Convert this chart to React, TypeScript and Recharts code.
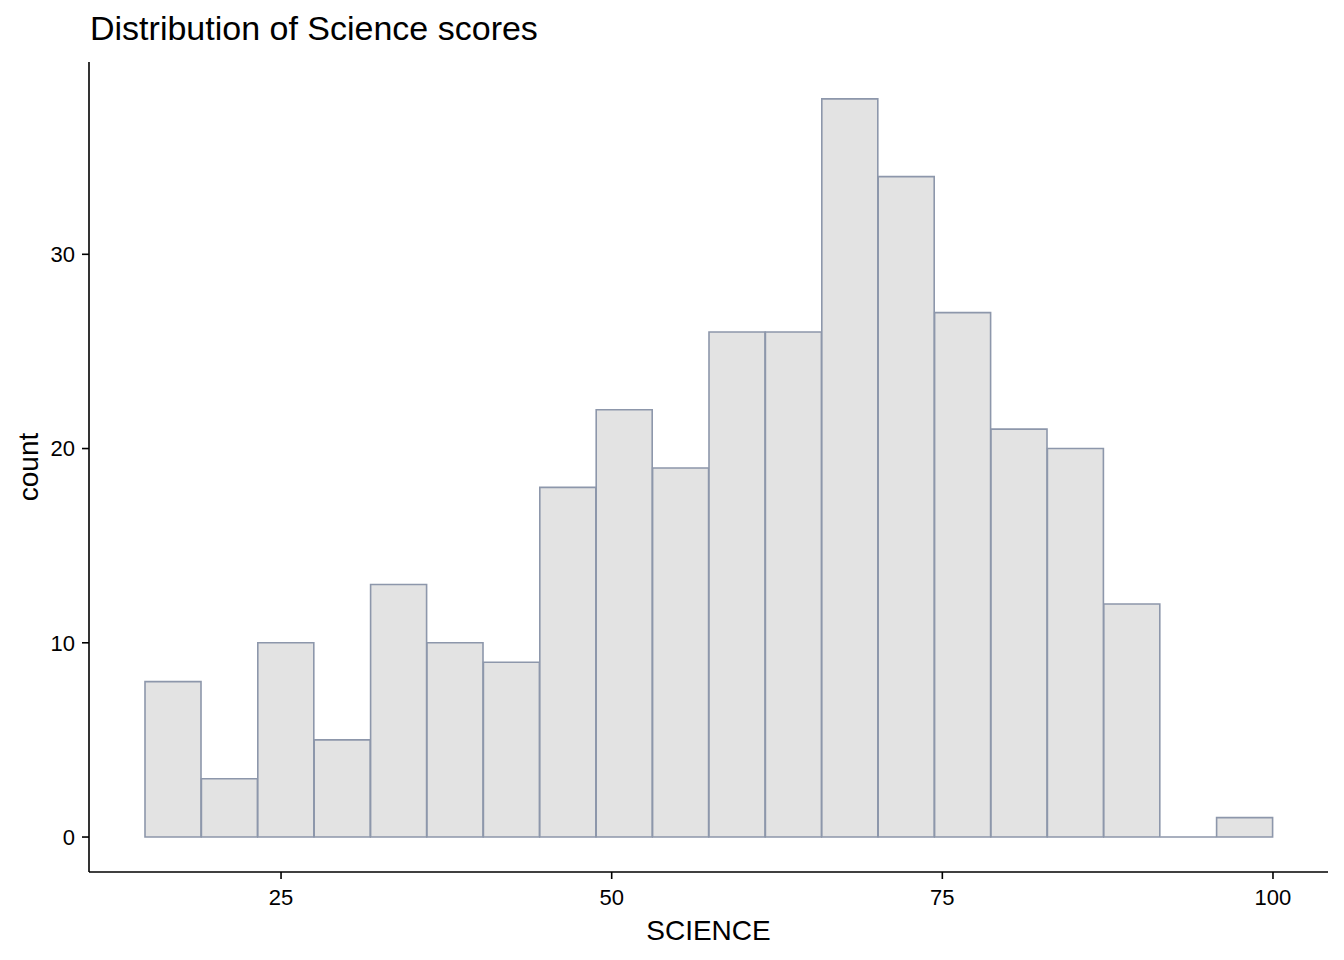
import { BarChart, Bar, XAxis, YAxis, Label } from 'recharts';

// histogram bins (binwidth ~4.26, from 14.72 to 100)
const binStart = [14.72, 18.98, 23.25, 27.51, 31.78, 36.04, 40.31, 44.57, 48.83, 53.1, 57.36, 61.63, 65.89, 70.15, 74.42, 78.68, 82.95, 87.21, 91.47, 95.74];
const binEnd = [18.98, 23.25, 27.51, 31.78, 36.04, 40.31, 44.57, 48.83, 53.1, 57.36, 61.63, 65.89, 70.15, 74.42, 78.68, 82.95, 87.21, 91.47, 95.74, 100];
const counts = [8, 3, 10, 5, 13, 10, 9, 18, 22, 19, 26, 26, 38, 34, 27, 21, 20, 12, 0, 1];
const xTicks = [25, 50, 75, 100];
const yTicks = [0, 10, 20, 30];

const data = counts.map((c, i) => ({
  bin: i,
  mid: (binStart[i] + binEnd[i]) / 2,
  count: c,
}));

const FONT = "Arial, 'Liberation Sans', sans-serif";
const FILL = '#e3e3e3';
const EDGE = '#8d97ab';

// rect drawn as a path so empty bins still show their bottom edge
const HistBar = (props: any) => {
  const { x, y, width, height } = props;
  const top = Math.min(y, y + height);
  const bottom = Math.max(y, y + height);
  return (
    <path
      d={`M${x},${bottom}V${top}H${x + width}V${bottom}Z`}
      fill={FILL}
      stroke={EDGE}
      strokeWidth={1.6}
    />
  );
};

export default function App() {
  return (
    <div style={{ position: 'absolute', left: 0, top: 0, width: 1344, height: 960, background: '#fff' }}>
      <div
        style={{
          position: 'absolute',
          left: 90,
          top: 11,
          fontFamily: FONT,
          fontSize: 34,
          lineHeight: '34px',
          color: '#000',
          whiteSpace: 'nowrap',
        }}
      >
        Distribution of Science scores
      </div>
      <BarChart
        width={1344}
        height={960}
        data={data}
        margin={{ top: 62, right: 16, left: 0, bottom: 0 }}
        barCategoryGap={0}
        barGap={0}
      >
        <XAxis xAxisId="cat" dataKey="bin" hide height={0} padding={{ left: 56, right: 55 }} />
        <XAxis
          xAxisId="num"
          dataKey="mid"
          type="number"
          domain={[10.48, 104.16]}
          allowDataOverflow
          ticks={xTicks}
          height={88}
          tickSize={7}
          tickMargin={10}
          stroke="#000"
          strokeWidth={1.6}
          tick={{ fill: '#000', fontSize: 22, fontFamily: FONT }}
        >
          <Label
            content={() => (
              <text x={708.5} y={940} textAnchor="middle" fontSize={28} fontFamily={FONT} fill="#000">
                SCIENCE
              </text>
            )}
          />
        </XAxis>
        <YAxis
          domain={[-1.8, 39.9]}
          allowDataOverflow
          ticks={yTicks}
          width={89}
          tickSize={7}
          tickMargin={7}
          stroke="#000"
          strokeWidth={1.6}
          tick={{ fill: '#000', fontSize: 22, fontFamily: FONT }}
        >
          <Label
            content={() => (
              <text
                x={38}
                y={467}
                transform="rotate(-90, 38, 467)"
                textAnchor="middle"
                fontSize={28}
                fontFamily={FONT}
                fill="#000"
              >
                count
              </text>
            )}
          />
        </YAxis>
        <Bar xAxisId="cat" dataKey="count" shape={HistBar} isAnimationActive={false} />
      </BarChart>
    </div>
  );
}
